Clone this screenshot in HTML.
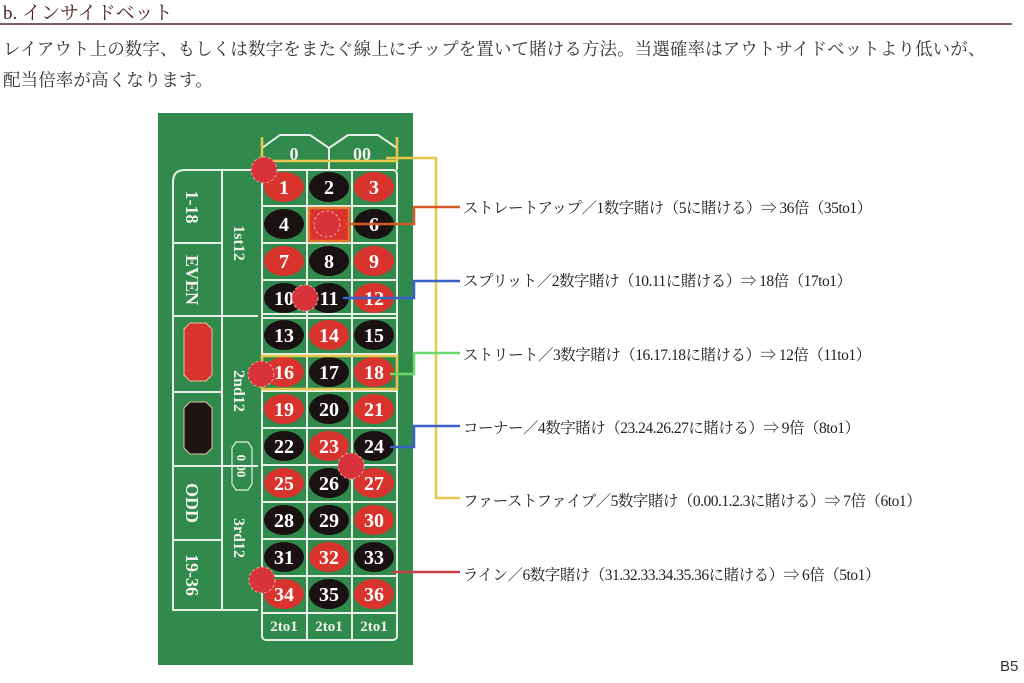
<!DOCTYPE html>
<html><head><meta charset="utf-8"><style>
html,body{margin:0;padding:0;background:#fff;}
body{width:1024px;height:683px;position:relative;overflow:hidden;font-family:"Liberation Serif","Noto Serif CJK SC",serif;color:#222;}
.h{position:absolute;left:3px;top:-2px;font-size:19px;color:#4a2323;}
.ul{position:absolute;left:0;top:23px;width:1012px;height:2px;background:#7a6262;}
.p{position:absolute;left:3px;font-size:17.5px;color:#333;white-space:nowrap;letter-spacing:0.1px;}
.t{position:absolute;left:463px;font-size:15.5px;color:#222;white-space:nowrap;letter-spacing:-0.5px;}
.b5{position:absolute;left:1000px;top:658px;font-family:"Liberation Sans",sans-serif;font-size:15px;color:#333;}
svg{position:absolute;left:0;top:0;}
</style></head><body>
<div class="h">b. インサイドベット</div>
<div class="ul"></div>
<div class="p" style="top:36px">レイアウト上の数字、もしくは数字をまたぐ線上にチップを置いて賭ける方法。当選確率はアウトサイドベットより低いが、</div>
<div class="p" style="top:67px">配当倍率が高くなります。</div>
<svg width="1024" height="683" viewBox="0 0 1024 683">
<rect x="158" y="113" width="255" height="552" fill="#2f8a4c"/>
<g fill="none" stroke="#e8efe6" stroke-width="2">
<path d="M262 170 V148 L280 135 L310 135 L329 148 L348 135 L378 135 L397 148 V170"/>
<line x1="329" y1="148" x2="329" y2="170"/>
<path d="M258 170 H185 Q173 170 173 182 V610 H258"/>
<line x1="222" y1="170" x2="222" y2="610"/>
<line x1="173" y1="243" x2="222" y2="243"/><line x1="173" y1="316" x2="258" y2="316"/>
<line x1="173" y1="392" x2="222" y2="392"/><line x1="173" y1="466" x2="258" y2="466"/>
<line x1="173" y1="540" x2="222" y2="540"/>
<rect x="262" y="170" width="135" height="470" rx="4"/>
<line x1="307" y1="170" x2="307" y2="640"/><line x1="352" y1="170" x2="352" y2="640"/>
<line x1="262" y1="206" x2="397" y2="206"/><line x1="262" y1="243" x2="397" y2="243"/>
<line x1="262" y1="280" x2="397" y2="280"/><line x1="262" y1="314" x2="397" y2="314"/><line x1="262" y1="318" x2="397" y2="318"/>
<line x1="262" y1="354" x2="397" y2="354"/><line x1="262" y1="391" x2="397" y2="391"/>
<line x1="262" y1="428" x2="397" y2="428"/><line x1="262" y1="465" x2="397" y2="465"/>
<line x1="262" y1="502" x2="397" y2="502"/><line x1="262" y1="539" x2="397" y2="539"/>
<line x1="262" y1="576" x2="397" y2="576"/><line x1="262" y1="613" x2="397" y2="613"/>
<path d="M236 442 H248 L252 448 V484 L248 490 H236 L232 484 V448 Z" stroke-width="1.2"/>
</g>
<path d="M184 329 L190 323 H206 L212 329 V375 L206 381 H190 L184 375 Z" fill="#d8332c" stroke="#e8c0a0"/>
<path d="M184 408 L190 402 H206 L212 408 V448 L206 454 H190 L184 448 Z" fill="#1f1414" stroke="#e8c0a0"/>
<g fill="#f2f2ea" font-weight="bold" font-size="18" text-anchor="middle">
<text x="294" y="160">0</text><text x="362" y="160">00</text>
<g font-size="15"><text x="284" y="631">2to1</text><text x="329" y="631">2to1</text><text x="374" y="631">2to1</text></g>
<text transform="translate(192,207) rotate(90)" y="6">1-18</text>
<text transform="translate(192,280) rotate(90)" y="6">EVEN</text>
<text transform="translate(192,503) rotate(90)" y="6">ODD</text>
<text transform="translate(192,575) rotate(90)" y="6">19-36</text>
<text transform="translate(240,243) rotate(90)" y="6" font-size="16">1st12</text>
<text transform="translate(240,391) rotate(90)" y="6" font-size="16">2nd12</text>
<text transform="translate(240,538) rotate(90)" y="6" font-size="16">3rd12</text>
<text transform="translate(242,466) rotate(90)" y="5" font-size="13">0 00</text>
</g>
<g stroke="none">
<g fill="#d8332c"><ellipse cx="284" cy="187" rx="20" ry="15"/><ellipse cx="374" cy="187" rx="20" ry="15"/><ellipse cx="329" cy="224" rx="20" ry="15"/><ellipse cx="284" cy="261" rx="20" ry="15"/><ellipse cx="374" cy="261" rx="20" ry="15"/><ellipse cx="374" cy="298" rx="20" ry="15"/><ellipse cx="329" cy="335" rx="20" ry="15"/><ellipse cx="284" cy="372" rx="20" ry="15"/><ellipse cx="374" cy="372" rx="20" ry="15"/><ellipse cx="284" cy="409" rx="20" ry="15"/><ellipse cx="374" cy="409" rx="20" ry="15"/><ellipse cx="329" cy="446" rx="20" ry="15"/><ellipse cx="284" cy="483" rx="20" ry="15"/><ellipse cx="374" cy="483" rx="20" ry="15"/><ellipse cx="374" cy="520" rx="20" ry="15"/><ellipse cx="329" cy="557" rx="20" ry="15"/><ellipse cx="284" cy="594" rx="20" ry="15"/><ellipse cx="374" cy="594" rx="20" ry="15"/></g>
<g fill="#1a1212"><ellipse cx="329" cy="187" rx="20" ry="15"/><ellipse cx="284" cy="224" rx="20" ry="15"/><ellipse cx="374" cy="224" rx="20" ry="15"/><ellipse cx="329" cy="261" rx="20" ry="15"/><ellipse cx="284" cy="298" rx="20" ry="15"/><ellipse cx="329" cy="298" rx="20" ry="15"/><ellipse cx="284" cy="335" rx="20" ry="15"/><ellipse cx="374" cy="335" rx="20" ry="15"/><ellipse cx="329" cy="372" rx="20" ry="15"/><ellipse cx="329" cy="409" rx="20" ry="15"/><ellipse cx="284" cy="446" rx="20" ry="15"/><ellipse cx="374" cy="446" rx="20" ry="15"/><ellipse cx="329" cy="483" rx="20" ry="15"/><ellipse cx="284" cy="520" rx="20" ry="15"/><ellipse cx="329" cy="520" rx="20" ry="15"/><ellipse cx="284" cy="557" rx="20" ry="15"/><ellipse cx="374" cy="557" rx="20" ry="15"/><ellipse cx="329" cy="594" rx="20" ry="15"/></g>
</g>
<g fill="#fff" font-weight="bold" font-size="20" text-anchor="middle">
<text x="284" y="194">1</text><text x="329" y="194">2</text><text x="374" y="194">3</text>
<text x="284" y="231">4</text><text x="329" y="231">5</text><text x="374" y="231">6</text>
<text x="284" y="268">7</text><text x="329" y="268">8</text><text x="374" y="268">9</text>
<text x="284" y="305">10</text><text x="329" y="305">11</text><text x="374" y="305">12</text>
<text x="284" y="342">13</text><text x="329" y="342">14</text><text x="374" y="342">15</text>
<text x="284" y="379">16</text><text x="329" y="379">17</text><text x="374" y="379">18</text>
<text x="284" y="416">19</text><text x="329" y="416">20</text><text x="374" y="416">21</text>
<text x="284" y="453">22</text><text x="329" y="453">23</text><text x="374" y="453">24</text>
<text x="284" y="490">25</text><text x="329" y="490">26</text><text x="374" y="490">27</text>
<text x="284" y="527">28</text><text x="329" y="527">29</text><text x="374" y="527">30</text>
<text x="284" y="564">31</text><text x="329" y="564">32</text><text x="374" y="564">33</text>
<text x="284" y="601">34</text><text x="329" y="601">35</text><text x="374" y="601">36</text>
</g>
<g fill="none" stroke-width="2.5">
<path d="M262 137 V161 H397 V137" stroke="#e8c84a"/>
<rect x="309" y="208" width="40" height="33" stroke="#e07a2a" fill="#d8332c"/>
<rect x="262" y="356" width="135" height="33" stroke="#e8c84a"/>
<path d="M386 158 H436 V498 H460" stroke="#e8c84a"/>
<path d="M345 224 H414 V207 H460" stroke="#d9582a"/>
<path d="M343 298 H414 V281 H460" stroke="#3a5fc8"/>
<path d="M390 374 H414 V353 H460" stroke="#6ad86a"/>
<path d="M390 447 H414 V426 H460" stroke="#3a5fc8"/>
<path d="M392 572 H460" stroke="#c8404a"/>
</g>
<g fill="#d8333a" stroke="#f0a0a0" stroke-width="1" stroke-dasharray="3 2">
<circle cx="264" cy="170" r="13"/><circle cx="327" cy="224" r="13"/><circle cx="305" cy="298" r="13"/>
<circle cx="261" cy="374" r="13"/><circle cx="351" cy="466" r="13"/><circle cx="262" cy="580" r="13"/>
</g>
</svg>
<div class="t" style="top:196px">ストレートアップ／1数字賭け（5に賭ける）⇒ 36倍（35to1）</div>
<div class="t" style="top:269px">スプリット／2数字賭け（10.11に賭ける）⇒ 18倍（17to1）</div>
<div class="t" style="top:343px">ストリート／3数字賭け（16.17.18に賭ける）⇒ 12倍（11to1）</div>
<div class="t" style="top:416px">コーナー／4数字賭け（23.24.26.27に賭ける）⇒ 9倍（8to1）</div>
<div class="t" style="top:489px">ファーストファイブ／5数字賭け（0.00.1.2.3に賭ける）⇒ 7倍（6to1）</div>
<div class="t" style="top:563px">ライン／6数字賭け（31.32.33.34.35.36に賭ける）⇒ 6倍（5to1）</div>
<div class="b5">B5</div>
</body></html>
